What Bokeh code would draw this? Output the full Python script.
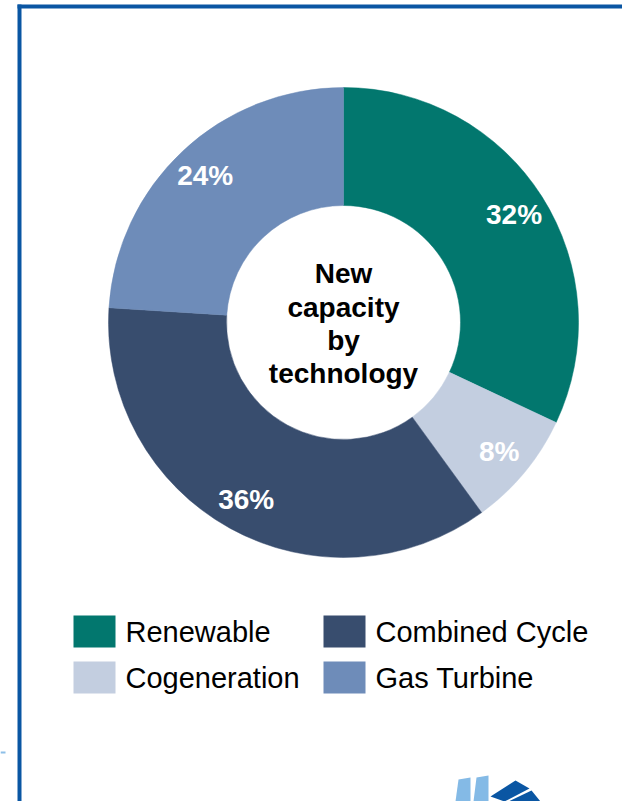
import math
from bokeh.plotting import figure
from bokeh.models import Range1d, ColumnDataSource
from bokeh.core.properties import value
from bokeh.embed import file_html
from bokeh.resources import INLINE

# ---- data ----
categories = ["Renewable", "Cogeneration", "Combined Cycle", "Gas Turbine"]
shares = [32, 8, 36, 24]
colors = ["#02776E", "#C3CEE0", "#384D6E", "#6E8CB9"]
center_lines = ["New", "capacity", "by", "technology"]
legend_order = ["Renewable", "Combined Cycle", "Cogeneration", "Gas Turbine"]

W, H = 622, 801
def Y(sy):  # screen y -> data y
    return H - sy

p = figure(width=W, height=H, output_backend="svg", toolbar_location=None,
           x_range=Range1d(0, W), y_range=Range1d(0, H), min_border=0)
p.axis.visible = False
p.grid.visible = False
p.outline_line_color = None
p.background_fill_color = "white"
p.border_fill_color = "white"

# frame lines
p.quad(left=[17], right=[21], bottom=[Y(801)], top=[Y(4)], fill_color="#0A56A3", line_color=None)
p.quad(left=[17], right=[622], bottom=[Y(8)], top=[Y(4)], fill_color="#0A56A3", line_color=None)
p.quad(left=[0], right=[5], bottom=[Y(753)], top=[Y(751)], fill_color="#8DBFE8", line_color=None)

# donut
cx, cy = 343, Y(322)
r_in, r_out = 117, 235
total = sum(shares)
starts, ends, mids = [], [], []
acc = 0.0
for s in shares:
    a0 = math.pi / 2 - 2 * math.pi * acc / total
    acc += s
    a1 = math.pi / 2 - 2 * math.pi * acc / total
    starts.append(a0)
    ends.append(a1)
    mids.append((a0 + a1) / 2)

src = ColumnDataSource(dict(start=starts, end=ends, color=colors, cat=categories))
p.annular_wedge(x=cx, y=cy, inner_radius=r_in, outer_radius=r_out,
                start_angle="start", end_angle="end", direction="clock",
                fill_color="color", line_color="color", line_width=0.5, source=src)

r_lab = 202
lab_src = ColumnDataSource(dict(
    x=[cx + r_lab * math.cos(m) for m in mids],
    y=[cy + r_lab * math.sin(m) for m in mids],
    t=[f"{s}%" for s in shares]))
p.text(x="x", y="y", text="t", source=lab_src, text_color="white",
       text_font=value("Liberation Sans"), text_font_style="bold",
       text_font_size="28px", text_align="center", text_baseline="middle")

# center text
line_mid = [273, 307, 340, 373]
p.text(x=[cx] * len(center_lines), y=[Y(v) for v in line_mid],
       text=center_lines, text_color="black", text_font=value("Liberation Sans"),
       text_font_style="bold", text_font_size="28px", text_align="center",
       text_baseline="middle")

# legend (2 columns)
col_x = [73, 323]
row_y = [615, 661]
sq_w, sq_h = 42, 32
lx, ly_top, lcol, ltxt = [], [], [], []
for i, cat in enumerate(legend_order):
    c = i % 2
    r = i // 2
    lx.append(col_x[c])
    ly_top.append(row_y[r])
    lcol.append(colors[categories.index(cat)])
    ltxt.append(cat)
p.quad(left=lx, right=[x + sq_w for x in lx], top=[Y(t) for t in ly_top],
       bottom=[Y(t + sq_h) for t in ly_top], fill_color=lcol, line_color=None)
p.text(x=[x + 52 for x in lx], y=[Y(t + sq_h / 2) for t in ly_top], text=ltxt,
       text_color="black", text_font=value("Liberation Sans"), text_font_size="29px",
       text_align="left", text_baseline="middle")

# logo fragment at bottom
p.patches(xs=[[455, 458, 470, 470], [473, 476, 488, 488],
              [490, 515, 529, 504], [508, 531, 540, 521]],
          ys=[[Y(801), Y(779), Y(777), Y(801)], [Y(801), Y(777), Y(775), Y(801)],
              [Y(796), Y(780), Y(788), Y(801)], [Y(801), Y(790), Y(801), Y(801)]],
          fill_color=["#84BAE6", "#84BAE6", "#0A56A3", "#0A56A3"], line_color=None)

open("out.html", "w").write(file_html(p, INLINE))
